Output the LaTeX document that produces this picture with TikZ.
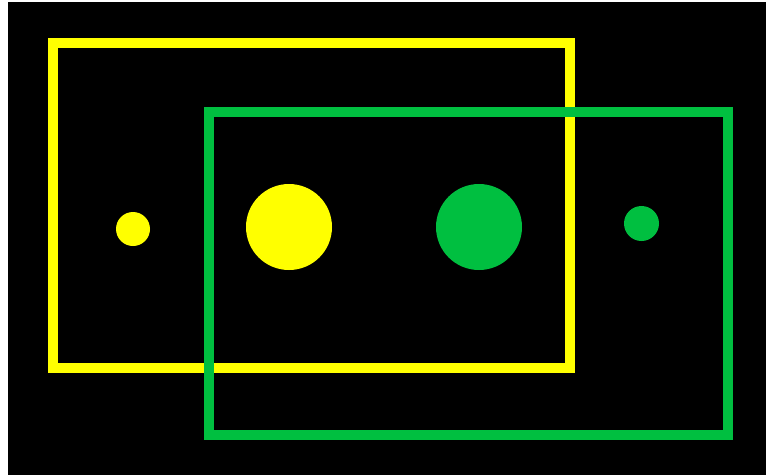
\documentclass[tikz,border=0pt]{standalone}
\definecolor{yel}{RGB}{255,255,0}
\definecolor{grn}{RGB}{0,191,64}
\begin{document}
\begin{tikzpicture}[x=1pt,y=-1pt,
  frame/.style={line width=10pt,miter limit=10},
  dot/.style={circle,inner sep=0pt,outer sep=0pt}]
\useasboundingbox (0,0) rectangle (766,475);
\fill[white] (0,0) rectangle (766,475);
\fill[black] (8,2) rectangle (766,475);
% yellow frame
\draw[frame,yel] (53,43) rectangle (569.5,367.7);
% green frame
\draw[frame,grn] (209,112) rectangle (728,435);
% dots
\node[dot,fill=yel,minimum size=34pt] (ys) at (133,229) {};
\node[dot,fill=yel,minimum size=86pt] (yl) at (289,227) {};
\node[dot,fill=grn,minimum size=86pt] (gl) at (479,227) {};
\node[dot,fill=grn,minimum size=35pt] (gs) at (641.5,223.5) {};
\end{tikzpicture}
\end{document}
